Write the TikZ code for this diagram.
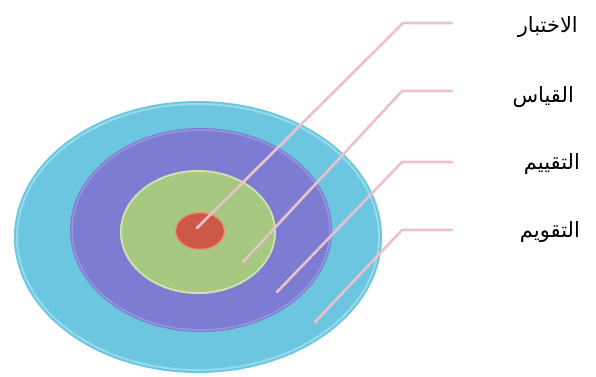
\documentclass[tikz,border=0pt]{standalone}
\usepackage{fontspec}
\newfontfamily\arabicfont[Script=Arabic]{DejaVu Sans}
\TeXXeTstate=1
\definecolor{cyanc}{RGB}{108,198,224}
\definecolor{cyanrim}{RGB}{150,218,238}
\definecolor{purc}{RGB}{124,124,210}
\definecolor{purrim}{RGB}{150,150,222}
\definecolor{grnc}{RGB}{166,200,128}
\definecolor{grnrim}{RGB}{208,224,180}
\definecolor{redc}{RGB}{206,88,72}
\definecolor{redrim}{RGB}{232,150,120}
\definecolor{leadc}{RGB}{236,192,204}
\tikzset{
  leader/.style={draw=leadc, line width=2.6pt, line cap=round, line join=round},
  lab/.style={font=\arabicfont\fontsize{21}{24}\selectfont, anchor=east, inner sep=0pt}
}
\begin{document}
\begin{tikzpicture}[x=1pt,y=-1pt]
\useasboundingbox (0,0) rectangle (596,376);
% discs
\fill[cyanc] (198,237) ellipse [x radius=184pt, y radius=136pt];
\draw[cyanrim, line width=2pt] (198,237) ellipse [x radius=181pt, y radius=133pt];
\fill[purc] (201,230) ellipse [x radius=131pt, y radius=102pt];
\draw[purrim, line width=1.5pt] (201,230) ellipse [x radius=129pt, y radius=100pt];
\fill[grnc] (198,232) ellipse [x radius=78pt, y radius=62pt];
\draw[grnrim, line width=1.8pt] (198,232) ellipse [x radius=77pt, y radius=61pt];
\fill[redc] (200,231) ellipse [x radius=25pt, y radius=19pt];
\draw[redrim, line width=1.2pt] (200,231) ellipse [x radius=24.5pt, y radius=18.5pt];
% leader coordinates
\coordinate (s1) at (197,228); \coordinate (k1) at (403,23);  \coordinate (h1) at (452,23);
\coordinate (s2) at (243,262); \coordinate (k2) at (402,91);  \coordinate (h2) at (452,91);
\coordinate (s3) at (277,292); \coordinate (k3) at (402,162); \coordinate (h3) at (452,162);
\coordinate (s4) at (315,322); \coordinate (k4) at (402,230); \coordinate (h4) at (452,230);
\draw[leader] (s1) -- (k1) -- (h1);
\draw[leader] (s2) -- (k2) -- (h2);
\draw[leader] (s3) -- (k3) -- (h3);
\draw[leader] (s4) -- (k4) -- (h4);
% labels
\node[lab] (l1) at (578,27) {\beginR الاختبار\endR};
\node[lab] (l2) at (574,97) {\beginR القياس\endR};
\node[lab] (l3) at (580,164) {\beginR التقييم\endR};
\node[lab] (l4) at (580,232) {\beginR التقويم\endR};
\end{tikzpicture}
\end{document}
